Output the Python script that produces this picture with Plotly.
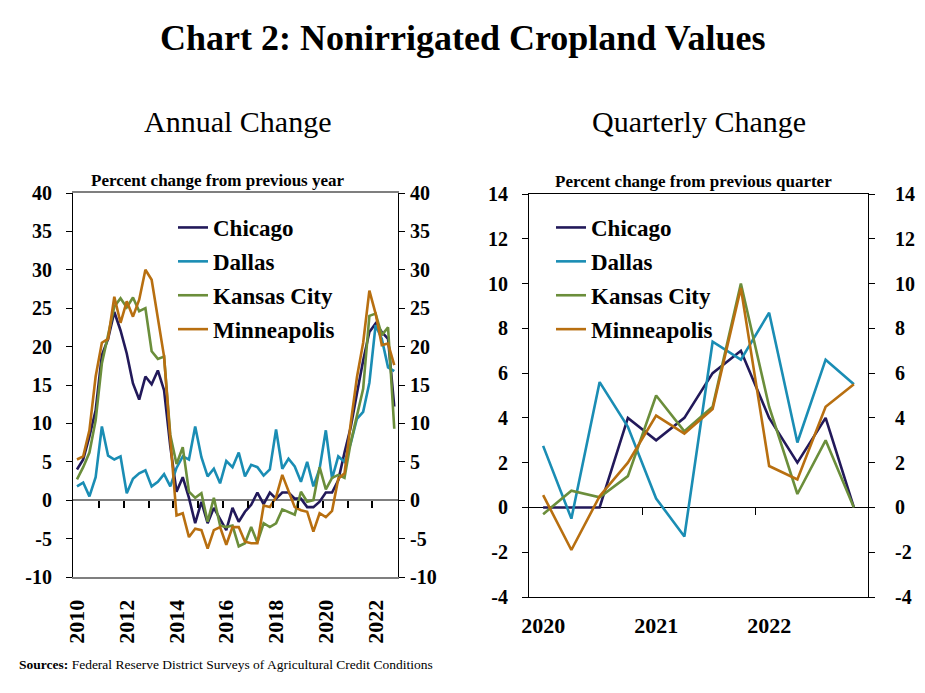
import plotly.graph_objects as go
import pandas as pd

# quarterly periods
annual_periods = pd.period_range("2010Q1", "2022Q4", freq="Q")
quarter_periods = pd.period_range("2020Q1", "2022Q4", freq="Q")

# annual change, percent (year over year, quarterly obs)
chicago_yoy = [4.0, 5.3, 8.3, 11.7, 18.9, 21.0, 24.5, 22.1, 19.1, 15.2, 13.1, 16.1, 15.1,
               16.9, 14.3, 7.0, 1.1, 3.0, 0.3, -3.0, -0.2, -3.0, -1.0, -2.5, -3.9, -1.0,
               -2.8, -1.5, -0.6, 1.0, -0.5, 1.0, 0.2, 1.0, 1.0, 0.2, 0.2, -0.9, -0.9, -0.2,
               1.0, 1.0, 2.6, 6.2, 9.5, 13.9, 18.2, 21.9, 23.0, 21.9, 21.0, 12.2]
dallas_yoy = [1.8, 2.3, 0.5, 3.0, 9.6, 5.8, 5.3, 5.7, 0.9, 2.8, 3.5, 3.9, 1.8,
              2.4, 3.4, 1.8, 4.2, 5.7, 5.3, 9.6, 5.6, 3.1, 4.1, 2.2, 5.1, 4.3,
              6.2, 3.1, 4.6, 4.3, 3.2, 4.0, 9.2, 4.1, 5.4, 4.4, 2.4, 5.0, 1.8, 4.1,
              9.1, 2.8, 5.7, 5.0, 7.4, 10.6, 11.5, 15.3, 22.8, 21.0, 17.3, 16.8]
kc_yoy = [2.7, 4.3, 6.2, 10.4, 17.8, 21.3, 25.2, 26.3, 25.1, 26.4, 24.6, 25.0, 19.4,
          18.4, 18.7, 8.5, 4.7, 6.9, 1.1, 0.3, 0.9, -2.8, 0.3, -3.3, -3.5, -3.3,
          -6.0, -5.6, -3.5, -5.5, -3.0, -3.5, -3.0, -1.2, -1.5, -1.9, 1.1, -0.2, 0.0, 4.3,
          1.4, 2.9, 3.3, 2.9, 7.5, 11.0, 14.5, 24.0, 24.3, 21.5, 22.5, 9.3]
mpls_yoy = [5.3, 5.7, 9.1, 16.1, 20.5, 21.0, 26.5, 23.1, 25.9, 23.9, 26.1, 30.0, 28.7,
            23.6, 18.7, 8.0, -2.0, -1.7, -4.8, -3.7, -3.9, -6.3, -3.9, -3.5, -5.8, -3.5,
            -3.5, -5.4, -5.6, -5.6, -0.7, -0.9, 0.4, 3.3, 1.3, -0.9, -1.3, -1.5, -4.1, -1.7,
            -2.2, -1.4, 2.8, 3.5, 10.0, 16.0, 20.5, 27.3, 24.3, 20.2, 20.4, 17.6]

# quarterly change, percent
chicago_qoq = [0.0, 0.0, 0.0, 4.0, 3.0, 4.0, 6.0, 7.0, 4.0, 2.0, 4.0, 0.0]
dallas_qoq = [2.75, -0.5, 5.6, 3.6, 0.4, -1.3, 7.4, 6.6, 8.7, 2.9, 6.6, 5.5]
kc_qoq = [-0.3, 0.75, 0.45, 1.4, 5.0, 3.4, 4.5, 10.0, 4.5, 0.6, 3.0, 0.0]
mpls_qoq = [0.55, -1.9, 0.5, 2.0, 4.1, 3.3, 4.4, 9.8, 1.85, 1.25, 4.5, 5.5]

districts = ["Chicago", "Dallas", "Kansas City", "Minneapolis"]
colors = ["#22195A", "#1A8DB4", "#6B8E3B", "#B86F10"]

annual_ticks = [2010, 2012, 2014, 2016, 2018, 2020, 2022]
quarter_ticks = [2020, 2021, 2022]
annual_y = [-10, -5, 0, 5, 10, 15, 20, 25, 30, 35, 40]
quarter_y = [-4, -2, 0, 2, 4, 6, 8, 10, 12, 14]

W, H = 925, 693
OFF = 8  # page body margin
FONT = "Liberation Serif, Times New Roman, serif"


def px(x):
    return (x - OFF) / W


def py(y):
    return 1 - (y - OFF) / H


def dec_year(periods):
    return [p.year + (p.quarter - 1) / 4 for p in periods]


x_annual = dec_year(annual_periods)
x_quarter = dec_year(quarter_periods)

fig = go.Figure()

for name, col, vals in zip(districts, colors, [chicago_yoy, dallas_yoy, kc_yoy, mpls_yoy]):
    fig.add_trace(go.Scatter(x=x_annual, y=vals, name=name, mode="lines",
                             line=dict(color=col, width=2.6), xaxis="x", yaxis="y",
                             legend="legend", legendgroup="a_" + name))

for name, col, vals in zip(districts, colors, [chicago_qoq, dallas_qoq, kc_qoq, mpls_qoq]):
    fig.add_trace(go.Scatter(x=x_quarter, y=vals, name=name, mode="lines",
                             line=dict(color=col, width=2.6), xaxis="x2", yaxis="y2",
                             legend="legend2", legendgroup="q_" + name))

# empty traces so the mirrored / zero-line tick axes get drawn
for xa, ya in [("x3", "y"), ("x4", "y2"), ("x", "y3"), ("x2", "y4")]:
    fig.add_trace(go.Scatter(x=[], y=[], xaxis=xa, yaxis=ya, showlegend=False,
                             hoverinfo="skip"))

ytick_font = dict(family=FONT, size=20, color="black", weight="bold")
xtick_font = dict(family=FONT, size=22, color="black", weight="bold")
ytext = lambda vals: [str(v) for v in vals]

dom_x1 = [px(73), px(398)]
dom_y1 = [py(577), py(193)]
dom_x2 = [px(529), px(868)]
dom_y2 = [py(597), py(194)]
xr1 = [2009.84, 2022.9]
xr2 = [2019.875, 2022.875]

fig.update_layout(
    width=W, height=H,
    margin=dict(l=0, r=0, t=0, b=0),
    paper_bgcolor="white", plot_bgcolor="white",
    font=dict(family=FONT, color="black"),
    showlegend=True,
    xaxis=dict(domain=dom_x1, range=xr1, anchor="y", tickvals=annual_ticks,
               ticktext=ytext(annual_ticks), tickangle=-90, ticks="",
               showline=True, linecolor="#7f7f7f", linewidth=2, mirror=True,
               showgrid=False, zeroline=False, tickfont=xtick_font, ticklabelstandoff=12,
               automargin=False),
    yaxis=dict(domain=dom_y1, range=[-10, 40], anchor="x", tickvals=annual_y,
               ticktext=ytext(annual_y), ticks="outside", ticklen=6, tickcolor="black",
               showline=True, linecolor="black", linewidth=1, mirror=True,
               showgrid=False, zeroline=True, zerolinecolor="#7f7f7f", zerolinewidth=2,
               tickfont=ytick_font, ticklabelstandoff=10, automargin=False),
    yaxis3=dict(overlaying="y", side="right", anchor="x", range=[-10, 40],
                tickvals=annual_y, ticktext=ytext(annual_y), ticks="outside", ticklen=6,
                tickcolor="black", showline=False, showgrid=False, zeroline=False,
                tickfont=ytick_font, ticklabelstandoff=1, automargin=False),
    xaxis3=dict(overlaying="x", anchor="free", position=py(500), range=xr1,
                tickvals=[y + 0.875 for y in range(2010, 2022)], ticks="outside",
                ticklen=7, tickcolor="black", tickwidth=1.5, showticklabels=False,
                showline=False, showgrid=False, zeroline=False, automargin=False),
    xaxis2=dict(domain=dom_x2, range=xr2, anchor="y2", tickvals=quarter_ticks,
                ticktext=ytext(quarter_ticks), ticks="", showline=True,
                linecolor="black", linewidth=1, mirror=True, showgrid=False,
                zeroline=False, tickfont=xtick_font, ticklabelstandoff=9, automargin=False),
    yaxis2=dict(domain=dom_y2, range=[-4, 14], anchor="x2", tickvals=quarter_y,
                ticktext=ytext(quarter_y), ticks="outside", ticklen=6, tickcolor="black",
                showline=True, linecolor="black", linewidth=1, mirror=True,
                showgrid=False, zeroline=True, zerolinecolor="black", zerolinewidth=1,
                tickfont=ytick_font, ticklabelstandoff=10, automargin=False),
    yaxis4=dict(overlaying="y2", side="right", anchor="x2", range=[-4, 14],
                tickvals=quarter_y, ticktext=ytext(quarter_y), ticks="outside", ticklen=6,
                tickcolor="black", showline=False, showgrid=False, zeroline=False,
                tickfont=ytick_font, ticklabelstandoff=16, automargin=False),
    xaxis4=dict(overlaying="x2", anchor="free", position=py(507), range=xr2,
                tickvals=[2020.875, 2021.875], ticks="outside", ticklen=7,
                tickcolor="black", showticklabels=False, showline=False,
                showgrid=False, zeroline=False, automargin=False),
    legend=dict(x=px(173), y=py(206), xanchor="left", yanchor="top",
                font=dict(family=FONT, size=23, color="black", weight="bold"),
                bgcolor="rgba(0,0,0,0)", tracegroupgap=1, itemwidth=30),
    legend2=dict(x=px(551), y=py(206), xanchor="left", yanchor="top",
                 font=dict(family=FONT, size=23, color="black", weight="bold"),
                 bgcolor="rgba(0,0,0,0)", tracegroupgap=1, itemwidth=30),
)

annots = [
    ("<b>Chart 2: Nonirrigated Cropland Values</b>", 462, 38, 36, "center"),
    ("Annual Change", 237, 121, 30, "center"),
    ("Quarterly Change", 699, 121, 30, "center"),
    ("<b>Percent change from previous year</b>", 218, 180, 17, "center"),
    ("<b>Percent change from previous quarter</b>", 693, 181, 17, "center"),
    ("<b>Sources:</b> Federal Reserve District Surveys of Agricultural Credit Conditions",
     17, 664, 13.5, "left"),
]
for text, x, y, size, anchor in annots:
    fig.add_annotation(text=text, x=px(x), y=py(y), xref="paper", yref="paper",
                       xanchor=anchor, yanchor="middle", showarrow=False,
                       font=dict(family=FONT, size=size, color="black"))

fig.write_html("out.html")
